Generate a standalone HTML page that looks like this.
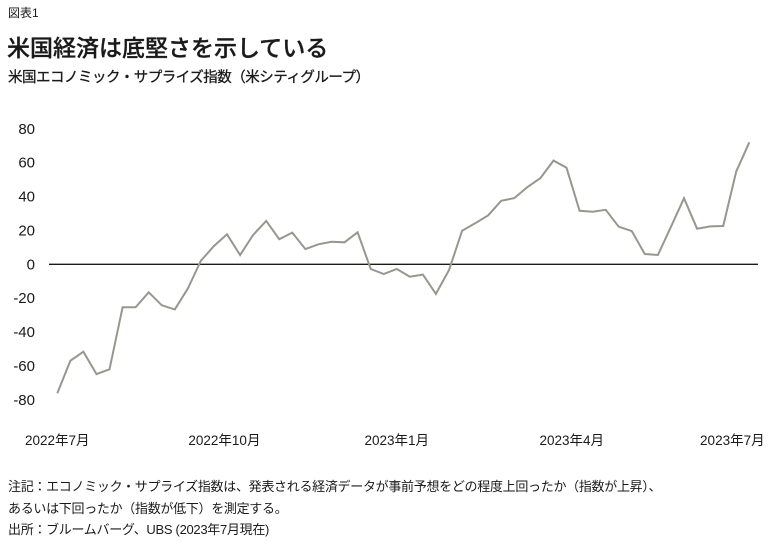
<!DOCTYPE html>
<html><head><meta charset="utf-8">
<style>
body{margin:0;width:773px;height:544px;background:#fff;overflow:hidden;font-family:"Liberation Sans","Noto Sans CJK JP",sans-serif;color:#1a1a1a;position:relative}
.t{position:absolute;white-space:nowrap}
</style></head><body>
<div class="t" style="left:8px;top:4px;font-size:12px">図表1</div>
<div class="t" style="left:7px;top:29px;font-size:23px;font-weight:500;-webkit-text-stroke:0.3px #1a1a1a">米国経済は底堅さを示している</div>
<div class="t" style="left:8px;top:66px;font-size:14.5px;letter-spacing:-0.5px;-webkit-text-stroke:0.3px #1a1a1a">米国エコノミック・サプライズ指数（米シティグループ）</div>
<svg id="chart" style="position:absolute;left:0;top:0" width="773" height="544"></svg>
<div class="t" style="left:8px;top:476px;font-size:13px;letter-spacing:-0.3px">注記：エコノミック・サプライズ指数は、発表される経済データが事前予想をどの程度上回ったか（指数が上昇）、</div>
<div class="t" style="left:8px;top:498px;font-size:13px;letter-spacing:-0.3px">あるいは下回ったか（指数が低下）を測定する。</div>
<div class="t" style="left:8px;top:519px;font-size:13px;letter-spacing:-0.3px">出所：ブルームバーグ、UBS (2023年7月現在)</div>
<script>
const values=[-76.1,-56.9,-51.6,-64.8,-62,-25.4,-25.4,-16.5,-24.2,-26.6,-14.2,2.1,10.8,17.7,5.5,17.3,25.6,14.8,18.7,9,11.8,13.3,13,18.9,-2.8,-5.7,-2.8,-7.3,-6.1,-17.5,-3.4,19.8,24.2,28.9,37.5,39.1,45.5,50.9,61.2,57,31.6,31,32.2,22.2,19.6,6.1,5.5,22.2,39,21,22.4,22.6,54.7,72];
const yTicks=[80,60,40,20,0,-20,-40,-60,-80];
const xLabels=["2022年7月","2022年10月","2023年1月","2023年4月","2023年7月"];
const xLabelIdx=[0,12.8,26,39.4,51.7];
const NS="http://www.w3.org/2000/svg";
const svg=document.getElementById('chart');
const x0=57.3,step=(749.3-57.3)/53;
const X=i=>x0+i*step;
const Y=v=>264.3-v*1.694;
yTicks.forEach(v=>{
  const t=document.createElementNS(NS,'text');
  
  
  t.setAttribute('x',35);t.setAttribute('y',Y(v)+5);
  t.setAttribute('text-anchor','end');t.setAttribute('font-size','15');t.setAttribute('fill','#1a1a1a');
  t.setAttribute('font-family','"Liberation Sans",sans-serif');
  t.textContent=v;svg.appendChild(t);
});
xLabels.forEach((s,k)=>{
  const t=document.createElementNS(NS,'text');
  
  
  t.setAttribute('x',X(xLabelIdx[k]));t.setAttribute('y',445);
  t.setAttribute('text-anchor','middle');t.setAttribute('font-size','13.5');t.setAttribute('fill','#1a1a1a');
  t.setAttribute('font-family','"Liberation Sans","Noto Sans CJK JP",sans-serif');
  t.textContent=s;svg.appendChild(t);
});
const z=document.createElementNS(NS,'line');


z.setAttribute('x1',49);z.setAttribute('x2',758);z.setAttribute('y1',Y(0));z.setAttribute('y2',Y(0));
z.setAttribute('stroke','#1e1a10');z.setAttribute('stroke-width','1.3');svg.appendChild(z);
const p=document.createElementNS(NS,'polyline');


p.setAttribute('points',values.map((v,i)=>X(i).toFixed(1)+','+Y(v).toFixed(1)).join(' '));
p.setAttribute('fill','none');p.setAttribute('stroke','#98978d');p.setAttribute('stroke-width','2');
svg.appendChild(p);
</script>
</body></html>
